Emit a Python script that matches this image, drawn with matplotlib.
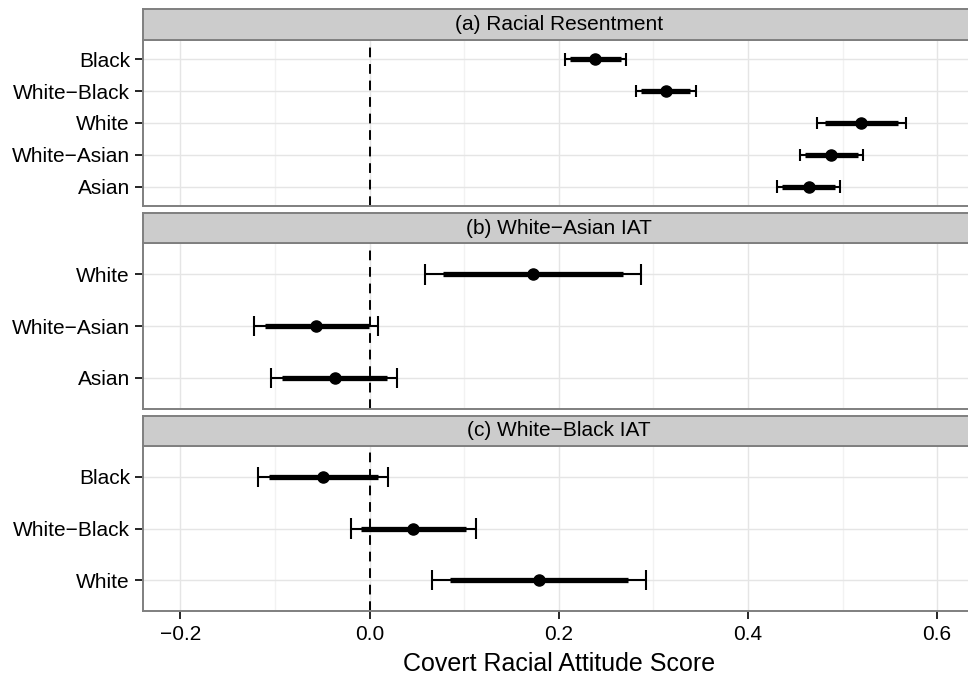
import matplotlib.pyplot as plt
import numpy as np

plt.rcParams['font.family'] = ['Liberation Sans', 'DejaVu Sans']

# panel titles
titles = ['(a) Racial Resentment', '(b) White\u2212Asian IAT', '(c) White\u2212Black IAT']

# groups, listed top to bottom
groups_a = ['Black', 'White\u2212Black', 'White', 'White\u2212Asian', 'Asian']
groups_b = ['White', 'White\u2212Asian', 'Asian']
groups_c = ['Black', 'White\u2212Black', 'White']

# point estimates
est_a = [0.238, 0.313, 0.520, 0.488, 0.464]
est_b = [0.173, -0.057, -0.037]
est_c = [-0.049, 0.046, 0.179]

# outer interval (thin line with caps)
lo95_a = [0.207, 0.282, 0.473, 0.455, 0.431]
hi95_a = [0.271, 0.345, 0.567, 0.522, 0.497]
lo95_b = [0.059, -0.122, -0.104]
hi95_b = [0.287, 0.009, 0.029]
lo95_c = [-0.118, -0.020, 0.066]
hi95_c = [0.019, 0.112, 0.292]

# inner interval (thick bar)
lo90_a = [0.212, 0.287, 0.481, 0.460, 0.436]
hi90_a = [0.266, 0.339, 0.559, 0.516, 0.492]
lo90_b = [0.078, -0.110, -0.093]
hi90_b = [0.268, -0.001, 0.018]
lo90_c = [-0.106, -0.009, 0.085]
hi90_c = [0.009, 0.102, 0.273]

panels = [
    (groups_a, est_a, lo95_a, hi95_a, lo90_a, hi90_a),
    (groups_b, est_b, lo95_b, hi95_b, lo90_b, hi90_b),
    (groups_c, est_c, lo95_c, hi95_c, lo90_c, hi90_c),
]

W, H = 968, 681
fig = plt.figure(figsize=(W / 100, H / 100), dpi=100)

left_px, right_px = 142.5, 975
# (strip top, panel top, panel bottom) in pixels from the top
rows_px = [(9, 40, 206), (213, 243, 409), (416, 446, 611)]

xticks = [-0.2, 0.0, 0.2, 0.4, 0.6]
minor = [-0.1, 0.1, 0.3, 0.5]

for k, (groups, est, lo95, hi95, lo90, hi90) in enumerate(panels):
    s_top, p_top, p_bot = rows_px[k]
    n = len(groups)
    y = n - np.arange(n)

    ax = fig.add_axes([left_px / W, 1 - p_bot / H, (right_px - left_px) / W, (p_bot - p_top) / H])
    ax.set_xlim(-0.24, 0.64)
    ax.set_ylim(0.4, n + 0.6)

    for v in minor:
        ax.axvline(v, color='#F2F2F2', lw=1.0, zorder=0)
    for v in xticks:
        ax.axvline(v, color='#E5E5E5', lw=1.0, zorder=0)
    for yy in y:
        ax.axhline(yy, color='#E5E5E5', lw=1.0, zorder=0)

    ax.axvline(0, color='black', lw=1.4, linestyle=(0, (5, 3.5)), zorder=1)

    ax.hlines(y, lo95, hi95, color='black', lw=1.5, zorder=2)
    ax.vlines(lo95, y - 0.2, y + 0.2, color='black', lw=1.5, zorder=2)
    ax.vlines(hi95, y - 0.2, y + 0.2, color='black', lw=1.5, zorder=2)
    ax.hlines(y, lo90, hi90, color='black', lw=3.8, zorder=3)
    ax.plot(est, y, 'o', color='black', markersize=8, zorder=4)

    ax.set_yticks(y)
    ax.set_yticklabels(groups, fontsize=15)
    ax.set_xticks(xticks)
    if k == 2:
        ax.set_xticklabels(['\u22120.2', '0.0', '0.2', '0.4', '0.6'], fontsize=15)
        ax.set_xlabel('Covert Racial Attitude Score', fontsize=18, labelpad=6)
        ax.tick_params(axis='x', length=6, width=1.2, pad=4)
    else:
        ax.tick_params(axis='x', length=0, labelbottom=False)
    ax.tick_params(axis='y', length=6, width=1.2, pad=3)
    for sp in ax.spines.values():
        sp.set_color('#7F7F7F')
        sp.set_linewidth(1.4)

    # facet strip
    sax = fig.add_axes([left_px / W, 1 - p_top / H, (right_px - left_px) / W, (p_top - s_top) / H])
    sax.set_facecolor('#CCCCCC')
    sax.set_xticks([])
    sax.set_yticks([])
    for sp in sax.spines.values():
        sp.set_color('#7F7F7F')
        sp.set_linewidth(1.4)
    sax.text(0.5, 0.5, titles[k], transform=sax.transAxes,
             ha='center', va='center', fontsize=15)

fig.savefig('out.png', dpi=100)
plt.close(fig)
